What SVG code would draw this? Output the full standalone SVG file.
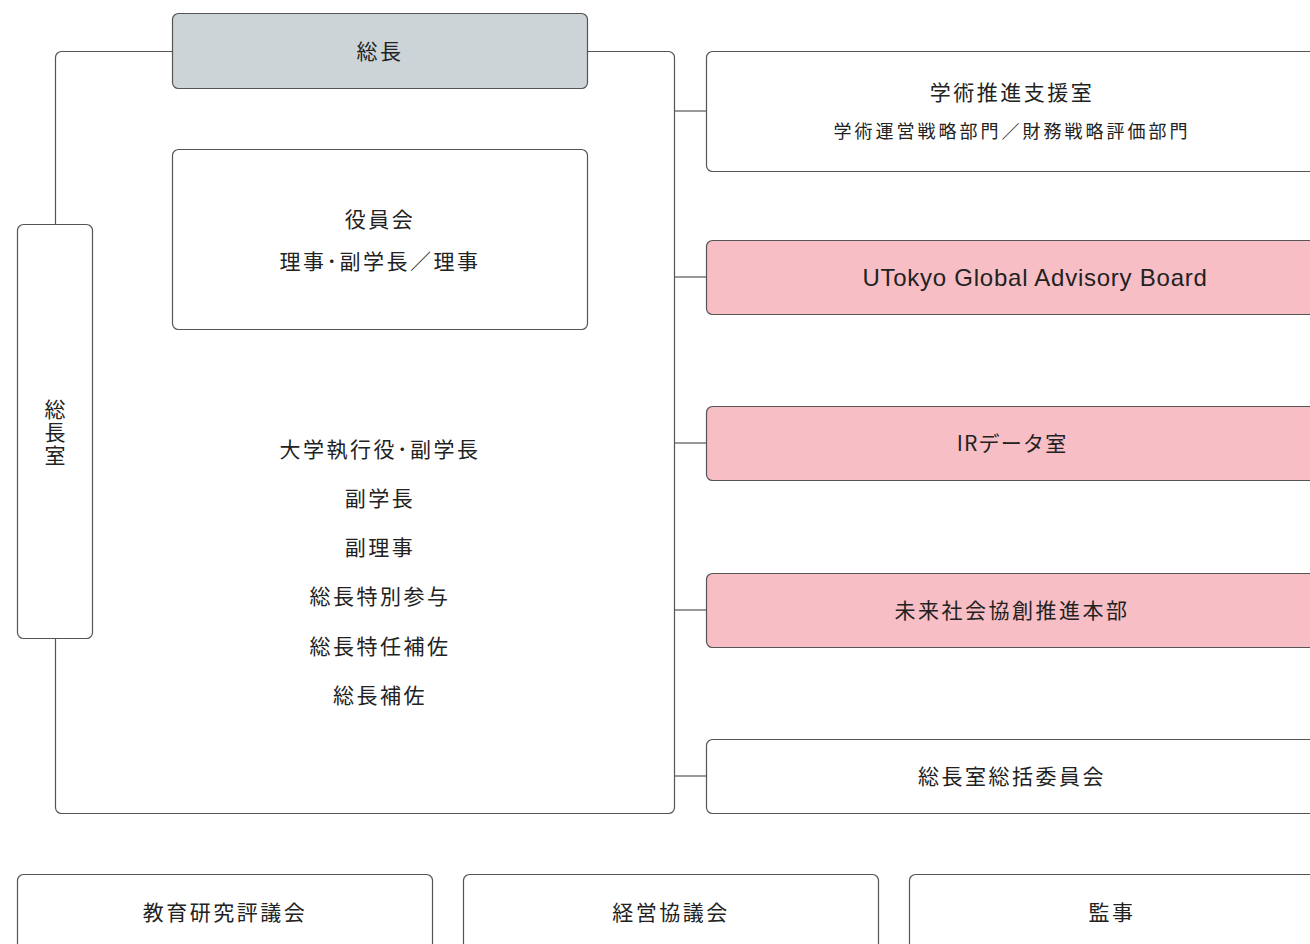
<svg xmlns="http://www.w3.org/2000/svg" width="1310" height="944" viewBox="0 0 1310 944">
<style>
.box{fill:#fff;stroke:#555;stroke-width:1.2}
.gray{fill:#cdd4d7}
.pink{fill:#f7bec5}
.ln{fill:none;stroke:#555;stroke-width:1.2}
.t{font-family:"Noto Sans CJK JP","Noto Sans",sans-serif;font-size:21px;fill:#222;text-anchor:middle;letter-spacing:2.5px}
.s{font-size:18px;letter-spacing:3px}
.en{font-family:"Liberation Sans",Arial,sans-serif;font-size:24px;letter-spacing:0.75px}
.v{writing-mode:vertical-rl;letter-spacing:2px;font-size:21px}
</style>
<rect width="1310" height="944" fill="#fff"/>
<g id="connectors">
<rect class="ln" x="55.5" y="51.5" width="619" height="762" rx="6"/>
<line class="ln" x1="674" y1="111" x2="706" y2="111"/>
<line class="ln" x1="674" y1="277" x2="706" y2="277"/>
<line class="ln" x1="674" y1="443" x2="706" y2="443"/>
<line class="ln" x1="674" y1="610" x2="706" y2="610"/>
<line class="ln" x1="674" y1="776" x2="706" y2="776"/>
</g>
<g id="president">
<rect class="box gray" x="172.5" y="13.5" width="415" height="75" rx="6"/>
<text class="t" x="380" y="59">総長</text>
</g>
<g id="board">
<rect class="box" x="172.5" y="149.5" width="415" height="180" rx="6"/>
<text class="t" x="380" y="227">役員会</text>
<text class="t" x="380" y="269">理事･副学長／理事</text>
</g>
<g id="executives">
<text class="t" x="380" y="457">大学執行役･副学長</text>
<text class="t" x="380" y="506">副学長</text>
<text class="t" x="380" y="555">副理事</text>
<text class="t" x="380" y="604">総長特別参与</text>
<text class="t" x="380" y="654">総長特任補佐</text>
<text class="t" x="380" y="703">総長補佐</text>
</g>
<g id="office">
<rect class="box" x="17.5" y="224.5" width="75" height="414" rx="6"/>
<text class="t v" x="55" y="433">総長室</text>
</g>
<g id="academic-support">
<rect class="box" x="706.5" y="51.5" width="610" height="120" rx="6"/>
<text class="t" x="1012" y="100">学術推進支援室</text>
<text class="t s" x="1012" y="138">学術運営戦略部門／財務戦略評価部門</text>
</g>
<g id="advisory-board">
<rect class="box pink" x="706.5" y="240.5" width="610" height="74" rx="6"/>
<text class="t en" x="1035" y="286">UTokyo Global Advisory Board</text>
</g>
<g id="ir-data">
<rect class="box pink" x="706.5" y="406.5" width="610" height="74" rx="6"/>
<text class="t" x="1012" y="451" style="letter-spacing:1.2px">IRデータ室</text>
</g>
<g id="future-society">
<rect class="box pink" x="706.5" y="573.5" width="610" height="74" rx="6"/>
<text class="t" x="1012" y="618">未来社会協創推進本部</text>
</g>
<g id="committee">
<rect class="box" x="706.5" y="739.5" width="610" height="74" rx="6"/>
<text class="t" x="1012" y="784">総長室総括委員会</text>
</g>
<g id="council">
<rect class="box" x="17.5" y="874.5" width="415" height="90" rx="6"/>
<text class="t" x="225" y="920">教育研究評議会</text>
</g>
<g id="management">
<rect class="box" x="463.5" y="874.5" width="415" height="90" rx="6"/>
<text class="t" x="671" y="920">経営協議会</text>
</g>
<g id="auditor">
<rect class="box" x="909.5" y="874.5" width="410" height="90" rx="6"/>
<text class="t" x="1112" y="920">監事</text>
</g>
</svg>
